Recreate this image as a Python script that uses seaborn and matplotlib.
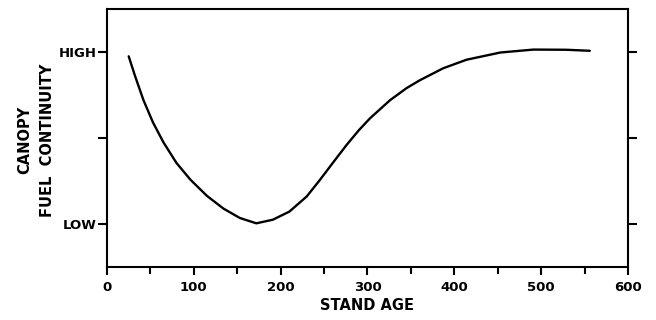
import matplotlib
matplotlib.use("Agg")
import matplotlib.pyplot as plt
import seaborn as sns
import pandas as pd
from matplotlib.ticker import MultipleLocator

stand_age = [25, 32, 42, 53, 65, 80, 96, 115, 134, 153, 172, 191, 210, 230, 245, 260, 276, 290, 303, 326, 345, 360, 387, 414, 453, 491, 529, 556]
continuity = [0.975, 0.865, 0.72, 0.59, 0.475, 0.355, 0.258, 0.164, 0.09, 0.035, 0.004, 0.025, 0.072, 0.16, 0.255, 0.355, 0.46, 0.545, 0.615, 0.72, 0.79, 0.835, 0.905, 0.955, 0.997, 1.014, 1.013, 1.007]
y_ticks = [0, 0.5, 1]
y_labels = ["LOW", "", "HIGH"]

df = pd.DataFrame({"age": stand_age, "cont": continuity})

sns.set_theme(style="white")
plt.rcParams["font.family"] = ["DejaVu Sans"]
plt.rcParams["font.weight"] = "bold"
plt.rcParams["text.color"] = "black"
plt.rcParams["axes.labelcolor"] = "black"

fig = plt.figure(figsize=(6.56, 3.2), dpi=100)
ax = fig.add_axes([0.1631, 0.1656, 0.7942, 0.8063])
sns.lineplot(data=df, x="age", y="cont", ax=ax, color="black", linewidth=1.7, sort=False,
             solid_joinstyle="round", solid_capstyle="round")

ax.set_xlim(0, 600)
ax.set_ylim(-0.25, 1.25)
ax.xaxis.set_major_locator(MultipleLocator(100))
ax.xaxis.set_minor_locator(MultipleLocator(50))
ax.set_yticks(y_ticks)
ax.set_yticklabels(y_labels)
ax.tick_params(axis="both", which="both", direction="out", width=1.5, color="black",
               labelsize=9.5, labelcolor="black")
ax.tick_params(axis="x", which="major", length=6, bottom=True, pad=4)
ax.tick_params(axis="x", which="minor", length=5, bottom=True)
ax.tick_params(axis="y", which="major", length=6.5, left=True, right=True, pad=1)
for lab in ax.get_xticklabels() + ax.get_yticklabels():
    lab.set_fontweight("bold")
for s in ax.spines.values():
    s.set_linewidth(1.5)
    s.set_color("black")

ax.set_xlabel("STAND AGE", fontsize=10.5, fontweight="bold", color="black", labelpad=3)
ax.set_ylabel("")
fig.text(0.038, 0.5625, "CANOPY", rotation=90, ha="center", va="center", fontsize=10.5, fontweight="bold", color="black")
fig.text(0.072, 0.5625, "FUEL  CONTINUITY", rotation=90, ha="center", va="center", fontsize=10.5, fontweight="bold", color="black")

fig.savefig("out.png", dpi=100)
